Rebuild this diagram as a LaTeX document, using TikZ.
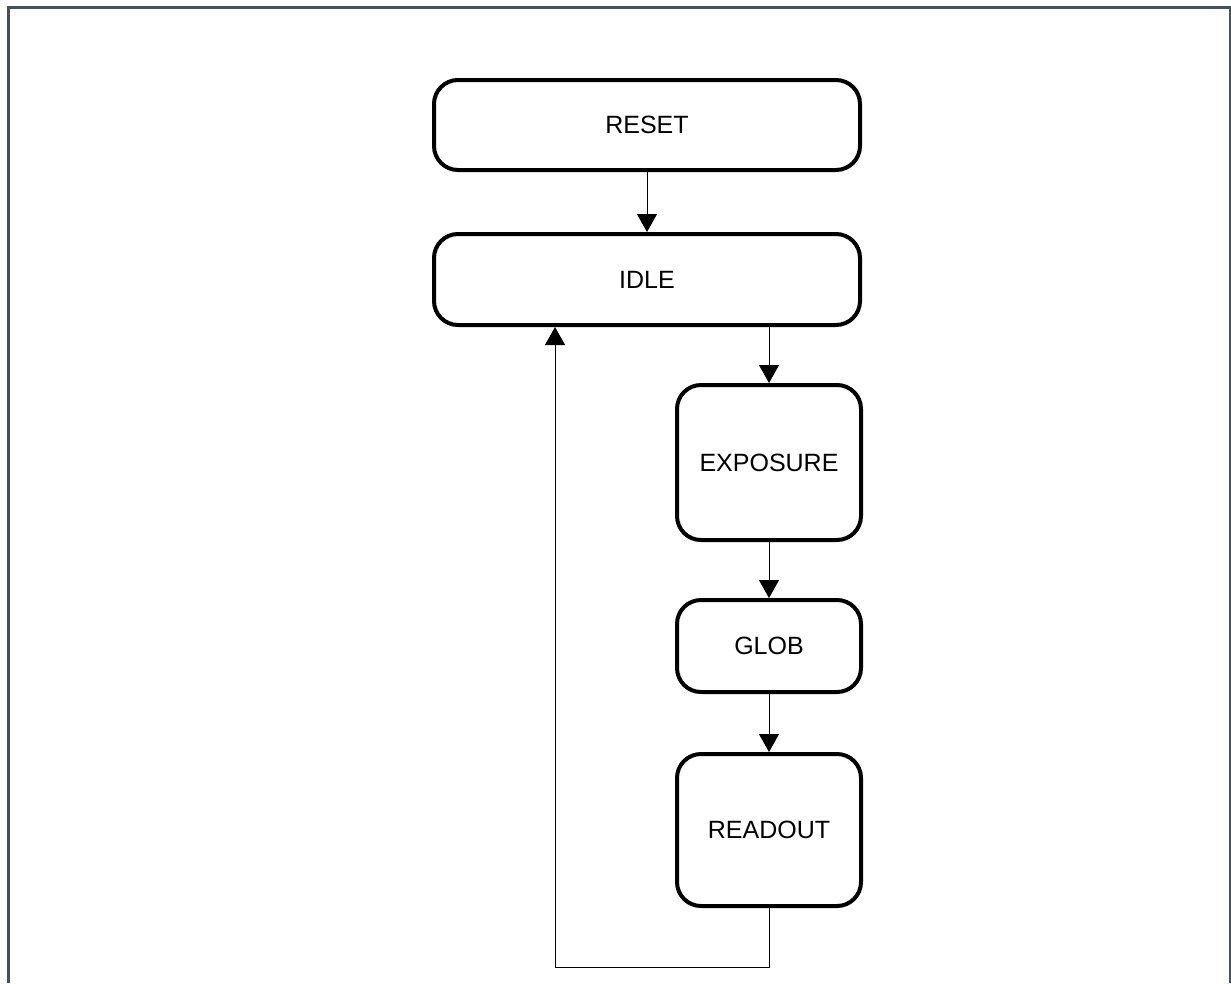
\documentclass[tikz,border=0pt]{standalone}
\usepackage{fontspec}
\setmainfont{Liberation Sans}
\usetikzlibrary{arrows.meta}
\definecolor{framecol}{HTML}{44525E}
\tikzset{
  state/.style={draw=black, line width=4pt, rounded corners=24pt, fill=white,
    font=\fontsize{25}{30}\selectfont, align=center, inner sep=0pt},
  conn/.style={draw=black, line width=1pt, -{Triangle[length=18pt,width=20pt]}}
}
\begin{document}
\begin{tikzpicture}[x=1pt,y=-1pt]
\useasboundingbox (0,0) rectangle (1231,983);
\draw[framecol, line width=3pt] (8.5,983) -- (8.5,7.5) -- (1230,7.5) -- (1230,983);
\node[state, minimum width=426pt, minimum height=90pt] (reset) at (647,125) {RESET};
\node[state, minimum width=426pt, minimum height=91pt] (idle) at (647,279.5) {IDLE};
\node[state, minimum width=184pt, minimum height=155pt] (exp) at (769,462.5) {EXPOSURE};
\node[state, minimum width=184pt, minimum height=92pt] (glob) at (769,646) {GLOB};
\node[state, minimum width=184pt, minimum height=152pt] (read) at (769,830) {READOUT};
\coordinate (c1) at (555,967);
\draw[conn] (reset.south) -- (idle.north);
\draw[conn] (idle.south -| exp.north) -- (exp.north);
\draw[conn] (exp.south) -- (glob.north);
\draw[conn] (glob.south) -- (read.north);
\draw[conn] (read.south) |- (c1) -- (idle.south -| c1);
\end{tikzpicture}
\end{document}
